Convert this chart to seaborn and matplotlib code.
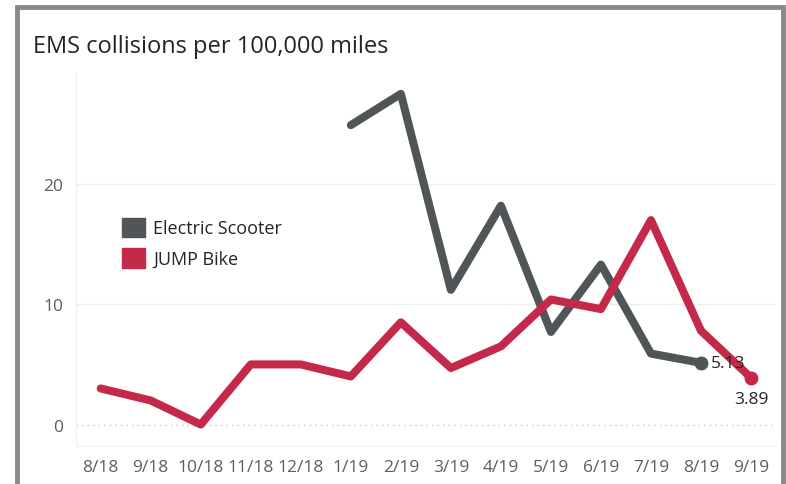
import numpy as np
import pandas as pd
import matplotlib
matplotlib.use("Agg")
import matplotlib.pyplot as plt
from matplotlib.patches import Patch, Rectangle
import seaborn as sns

# values
months = ["8/18", "9/18", "10/18", "11/18", "12/18", "1/19", "2/19",
          "3/19", "4/19", "5/19", "6/19", "7/19", "8/19", "9/19"]
bike = [3.0, 2.0, 0.0, 5.0, 5.0, 4.0, 8.5, 4.7, 6.5, 10.4, 9.6, 17.0, 7.8, 3.89]
scooter_months = ["1/19", "2/19", "3/19", "4/19", "5/19", "6/19", "7/19", "8/19"]
scooter = [24.9, 27.5, 11.2, 18.2, 7.7, 13.3, 5.9, 5.13]
y_ticks = [0, 10, 20]

series_names = ["Electric Scooter", "JUMP Bike"]
colors = {"Electric Scooter": "#505557", "JUMP Bike": "#C4294A"}


def build_frame():
    rows = []
    for m, v in zip(scooter_months, scooter):
        rows.append({"idx": months.index(m), "value": v, "series": "Electric Scooter"})
    for i, v in enumerate(bike):
        rows.append({"idx": i, "value": v, "series": "JUMP Bike"})
    return pd.DataFrame(rows)


def main():
    sns.set_style("white")
    plt.rcParams["font.family"] = ["Open Sans", "DejaVu Sans"]

    df = build_frame()
    fig = plt.figure(figsize=(7.86, 4.85), dpi=100)
    ax = fig.add_axes([0.0963, 0.078, 0.891, 0.771])

    # gridlines first so the lines sit on top
    for t in y_ticks:
        if t == 0:
            ax.axhline(t, color="#c4c4c4", lw=1.0, ls=(0, (1, 3)), zorder=0)
        else:
            ax.axhline(t, color="#efefef", lw=1.0, zorder=0)

    sns.lineplot(data=df, x="idx", y="value", hue="series", hue_order=series_names,
                 palette=colors, lw=5.8, ax=ax, legend=False,
                 solid_capstyle="round", solid_joinstyle="round")

    # end points and data labels
    last_s = months.index(scooter_months[-1])
    ax.plot(last_s, scooter[-1], "o", ms=9, color=colors["Electric Scooter"], zorder=5)
    ax.annotate(f"{scooter[-1]:.2f}", (last_s, scooter[-1]), xytext=(7, 0),
                textcoords="offset points", va="center", ha="left",
                fontsize=12.5, color="#252423")
    last_b = len(months) - 1
    ax.plot(last_b, bike[-1], "o", ms=9, color=colors["JUMP Bike"], zorder=5)
    ax.annotate(f"{bike[-1]:.2f}", (last_b, bike[-1]), xytext=(0, -15),
                textcoords="offset points", va="center", ha="center",
                fontsize=12.5, color="#252423")

    ax.set_xlim(-0.5, len(months) - 0.5)
    ax.set_ylim(-1.8, 29.3)
    ax.set_xticks(range(len(months)))
    ax.set_xticklabels(months)
    ax.set_xticks(np.arange(-0.5, len(months), 1.0), minor=True)
    ax.set_yticks(y_ticks)
    ax.set_xlabel("")
    ax.set_ylabel("")
    ax.tick_params(axis="x", which="major", length=0, pad=9, labelsize=12.5, labelcolor="#605e5c")
    ax.tick_params(axis="x", which="minor", length=8, width=1, color="#ececec")
    ax.tick_params(axis="y", length=7, width=1, color="#ececec", pad=2,
                   labelsize=12.5, labelcolor="#605e5c")

    for side in ["top", "right"]:
        ax.spines[side].set_visible(False)
    ax.spines["left"].set_color("#f0f0f0")
    ax.spines["bottom"].set_color("#f0f0f0")

    handles = [Patch(facecolor=colors[n], edgecolor=colors[n], label=n) for n in series_names]
    fig.legend(handles=handles, loc="upper left", bbox_to_anchor=(0.1436, 0.568),
               frameon=False, fontsize=13, handlelength=1.3, handleheight=1.3,
               handletextpad=0.45, labelspacing=0.6, borderpad=0, labelcolor="#252423")

    fig.text(33 / 786, 1 - 53 / 485, "EMS collisions per 100,000 miles",
             fontsize=17, color="#252423", va="baseline", ha="left")

    # outer card border (left, top, right)
    fig.patches.append(Rectangle((16.5 / 786, -0.1), (783 - 16.5) / 786, 1.1 - 7.5 / 485,
                                 transform=fig.transFigure, fill=False,
                                 edgecolor="#8a8a8a", lw=3.5, zorder=10))

    fig.savefig("out.png", dpi=100)


if __name__ == "__main__":
    main()
